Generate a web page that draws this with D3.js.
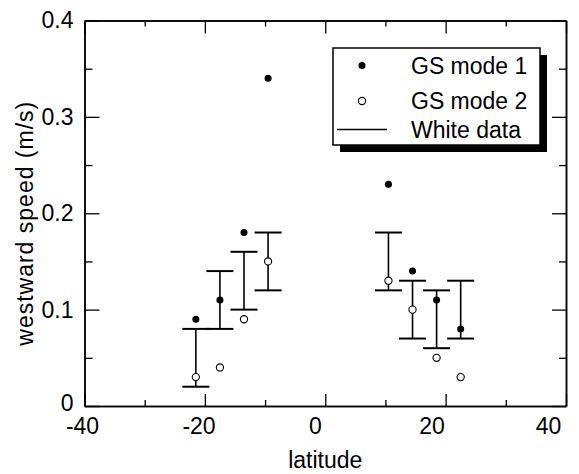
<!DOCTYPE html>
<html>
<head>
<meta charset="utf-8">
<script src="https://cdn.jsdelivr.net/npm/d3@7"></script>
<style>
  html, body { margin: 0; padding: 0; background: #fff; }
  svg { display: block; }
  text { font-family: "Liberation Sans", Arial, Helvetica, sans-serif; fill: #000; }
</style>
</head>
<body>
<svg id="chart" width="579" height="474"></svg>
<script>
// ---- data ----
const latitude   = [-21.5, -17.5, -13.5, -9.5, 10.5, 14.5, 18.5, 22.5];
const gsMode1    = [0.09, 0.11, 0.18, 0.34, 0.23, 0.14, 0.11, 0.08];
const gsMode2    = [0.03, 0.04, 0.09, 0.15, 0.13, 0.10, 0.05, 0.03];
const whiteLow   = [0.02, 0.08, 0.10, 0.12, 0.12, 0.07, 0.06, 0.07];
const whiteHigh  = [0.08, 0.14, 0.16, 0.18, 0.18, 0.13, 0.12, 0.13];
const xMajorTicks = [-40, -20, 0, 20, 40];
const xMinorTicks = [-30, -10, 10, 30];
const yMajorTicks = [0, 0.1, 0.2, 0.3, 0.4];
const yMinorTicks = [0.05, 0.15, 0.25, 0.35];
const legendLabels = ["GS mode 1", "GS mode 2", "White data"];
const xTitle = "latitude";
const yTitle = "westward speed (m/s)";

// ---- layout ----
const L = 84.5, R = 566, T = 20.5, B = 406;
const svg = d3.select("#chart");
const x = d3.scaleLinear().domain([-40, 40]).range([L, R]);
const y = d3.scaleLinear().domain([0, 0.4]).range([B, T]);
// the scanned labels sit slightly compressed relative to tick marks
const xLabel = d3.scaleLinear().domain([-40, 40]).range([82, 548]);

const fs = 23;
function styleAxis(g, w) {
  g.selectAll("path.domain").attr("stroke", "#000").attr("stroke-width", w);
  g.selectAll(".tick line").attr("stroke", "#000").attr("stroke-width", 1.3);
  g.selectAll("text").attr("font-size", fs).attr("font-family", "Liberation Sans, Arial, sans-serif");
}

// bottom axis
const gb = svg.append("g").attr("transform", `translate(0,${B})`)
  .call(d3.axisBottom(x).tickValues(xMajorTicks).tickSizeInner(-12).tickSizeOuter(0).tickPadding(12)
    .tickFormat(d => String(d)));
styleAxis(gb, 1.5);
gb.selectAll(".tick text").attr("x", d => xLabel(d) - x(d));
svg.append("g").attr("transform", `translate(0,${B})`)
  .call(d3.axisBottom(x).tickValues(xMinorTicks).tickSizeInner(-6).tickSizeOuter(0).tickFormat(""))
  .call(g => styleAxis(g, 1.5));

// top axis
svg.append("g").attr("transform", `translate(0,${T})`)
  .call(d3.axisTop(x).tickValues(xMajorTicks).tickSizeInner(-13).tickSizeOuter(0).tickFormat(""))
  .call(g => styleAxis(g, 1.5));
svg.append("g").attr("transform", `translate(0,${T})`)
  .call(d3.axisTop(x).tickValues(xMinorTicks).tickSizeInner(-6).tickSizeOuter(0).tickFormat(""))
  .call(g => styleAxis(g, 1.5));

// left axis
const gl = svg.append("g").attr("transform", `translate(${L},0)`)
  .call(d3.axisLeft(y).tickValues(yMajorTicks).tickSizeInner(-15).tickSizeOuter(0).tickPadding(11)
    .tickFormat(d => d === 0 ? "0" : d3.format(".1f")(d)));
styleAxis(gl, 1.5);
gl.selectAll(".tick text").attr("dy", d => d === 0 ? "0.2em" : "0.32em");
svg.append("g").attr("transform", `translate(${L},0)`)
  .call(d3.axisLeft(y).tickValues(yMinorTicks).tickSizeInner(-8).tickSizeOuter(0).tickFormat(""))
  .call(g => styleAxis(g, 1.5));

// right axis
svg.append("g").attr("transform", `translate(${R},0)`)
  .call(d3.axisRight(y).tickValues(yMajorTicks).tickSizeInner(-14).tickSizeOuter(0).tickFormat(""))
  .call(g => styleAxis(g, 1.5));
svg.append("g").attr("transform", `translate(${R},0)`)
  .call(d3.axisRight(y).tickValues(yMinorTicks).tickSizeInner(-7).tickSizeOuter(0).tickFormat(""))
  .call(g => styleAxis(g, 1.5));

// axis titles
svg.append("text").attr("x", x(0)).attr("y", 468).attr("text-anchor", "middle")
  .attr("font-size", fs).text(xTitle);
svg.append("text").attr("transform", `translate(33,${(T + B) / 2 + 10}) rotate(-90)`)
  .attr("text-anchor", "middle").attr("font-size", fs).attr("letter-spacing", 1.0).text(yTitle);

// error bars (White data)
const capW = 13.5;
const eb = svg.append("g").attr("stroke", "#000");
latitude.forEach((lat, i) => {
  eb.append("line").attr("x1", x(lat)).attr("x2", x(lat))
    .attr("y1", y(whiteLow[i])).attr("y2", y(whiteHigh[i])).attr("stroke-width", 1.6);
  [whiteLow[i], whiteHigh[i]].forEach(v => {
    eb.append("line").attr("x1", x(lat) - capW).attr("x2", x(lat) + capW)
      .attr("y1", y(v)).attr("y2", y(v)).attr("stroke-width", 2);
  });
});

// GS mode 2 (open circles)
svg.append("g").selectAll("circle").data(latitude).join("circle")
  .attr("cx", d => x(d)).attr("cy", (d, i) => y(gsMode2[i])).attr("r", 3.6)
  .attr("fill", "#fff").attr("stroke", "#000").attr("stroke-width", 1.1);

// GS mode 1 (filled circles)
svg.append("g").selectAll("circle").data(latitude).join("circle")
  .attr("cx", d => x(d)).attr("cy", (d, i) => y(gsMode1[i])).attr("r", 3.5)
  .attr("fill", "#000");

// legend
const lg = svg.append("g");
const lx = 333, ly = 48, lw = 207, lh = 97, sh = 7;
lg.append("rect").attr("x", lx + sh).attr("y", ly + sh).attr("width", lw).attr("height", lh).attr("fill", "#000");
lg.append("rect").attr("x", lx).attr("y", ly).attr("width", lw).attr("height", lh)
  .attr("fill", "#fff").attr("stroke", "#000").attr("stroke-width", 1.5);
const rowY = [65.5, 101, 129.5];
lg.append("circle").attr("cx", 362).attr("cy", rowY[0]).attr("r", 3.5).attr("fill", "#000");
lg.append("circle").attr("cx", 362).attr("cy", rowY[1]).attr("r", 3.6).attr("fill", "#fff")
  .attr("stroke", "#000").attr("stroke-width", 1.1);
lg.append("line").attr("x1", 337).attr("x2", 387).attr("y1", rowY[2]).attr("y2", rowY[2])
  .attr("stroke", "#000").attr("stroke-width", 1.5);
legendLabels.forEach((t, i) => {
  lg.append("text").attr("x", 411).attr("y", rowY[i]).attr("dy", "0.35em")
    .attr("font-size", fs).text(t);
});
</script>
</body>
</html>
